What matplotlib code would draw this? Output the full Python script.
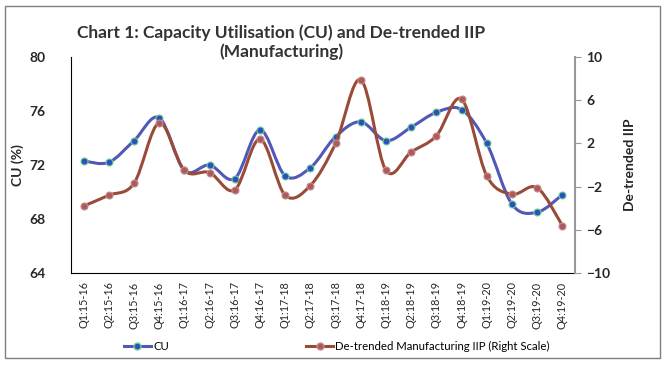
import matplotlib
matplotlib.use("Agg")
import matplotlib.pyplot as plt
from matplotlib.path import Path
from matplotlib.patches import PathPatch, Rectangle
from matplotlib.lines import Line2D
import numpy as np

plt.rcParams['font.family'] = ['Lato', 'DejaVu Sans']

quarters = ["Q1:15-16", "Q2:15-16", "Q3:15-16", "Q4:15-16",
            "Q1:16-17", "Q2:16-17", "Q3:16-17", "Q4:16-17",
            "Q1:17-18", "Q2:17-18", "Q3:17-18", "Q4:17-18",
            "Q1:18-19", "Q2:18-19", "Q3:18-19", "Q4:18-19",
            "Q1:19-20", "Q2:19-20", "Q3:19-20", "Q4:19-20"]
cu = [72.3, 72.2, 73.8, 75.5, 71.6, 72.0, 71.0, 74.6, 71.2, 71.8,
      74.1, 75.2, 73.8, 74.8, 75.9, 76.1, 73.6, 69.1, 68.5, 69.8]
iip = [-3.8, -2.8, -1.7, 3.9, -0.5, -0.7, -2.3, 2.4, -2.8, -1.9,
       2.0, 7.9, -0.5, 1.2, 2.7, 6.1, -1.0, -2.7, -2.1, -5.6]

blue_line = "#5058b8"
blue_dot = "#2c50c0"
red_line = "#9a4a38"
red_dot = "#a85c5c"


def smooth_path(xs, ys):
    # Excel-style smoothed line as cubic bezier segments
    pts = np.column_stack([xs, ys]).astype(float)
    n = len(pts)
    verts = [pts[0]]
    codes = [Path.MOVETO]
    for i in range(n - 1):
        p0 = pts[i - 1] if i > 0 else pts[i]
        p1 = pts[i]
        p2 = pts[i + 1]
        p3 = pts[i + 2] if i + 2 < n else pts[i + 1]
        c1 = p1 + (p2 - p0) / 6.0
        c2 = p2 - (p3 - p1) / 6.0
        verts += [c1, c2, p2]
        codes += [Path.CURVE4] * 3
    return Path(verts, codes)


fig = plt.figure(figsize=(6.67, 3.69), dpi=100)
fig.patches.append(Rectangle((0.008, 0.03), 0.982, 0.955, transform=fig.transFigure,
                             fill=False, edgecolor="#7f7f7f", linewidth=1.0))

ax = fig.add_axes([0.1064, 0.260, 0.7556, 0.5855])
ax2 = ax.twinx()

x = np.arange(len(quarters))

ax.add_patch(PathPatch(smooth_path(x, cu), fill=False, edgecolor=blue_line, linewidth=2.2, zorder=2))
ax.plot(x, cu, linestyle="none", marker="o", markersize=5, markerfacecolor=blue_dot,
        markeredgecolor="#6fcf8f", markeredgewidth=0.8, zorder=3)

ax2.add_patch(PathPatch(smooth_path(x, iip), fill=False, edgecolor=red_line, linewidth=2.2, zorder=2))
ax2.plot(x, iip, linestyle="none", marker="o", markersize=5, markerfacecolor=red_dot,
         markeredgecolor="#c98a8a", markeredgewidth=0.8, zorder=3)

ax.set_xlim(-0.5, len(quarters) - 0.5)
ax.set_ylim(64, 80)
ax.set_yticks([64, 68, 72, 76, 80])
ax2.set_ylim(-10, 10)
ax2.set_yticks([-10, -6, -2, 2, 6, 10])

ax.set_xticks(x)
ax.set_xticklabels(quarters, rotation=90, fontsize=7.8, color="#262626")
ax.tick_params(axis="x", length=0, pad=6)
ax.tick_params(axis="y", length=0, labelsize=10, pad=18)
ax2.tick_params(axis="y", length=4, color="#999999", labelsize=10, pad=4)
for lab in ax.get_yticklabels() + ax2.get_yticklabels():
    lab.set_fontweight("bold")
    lab.set_color("#262626")

for s in ["top", "right"]:
    ax.spines[s].set_visible(False)
ax.spines["left"].set_color("black")
ax.spines["bottom"].set_color("black")
for s in ["top", "left", "bottom"]:
    ax2.spines[s].set_visible(False)
ax2.spines["right"].set_color("#999999")
ax2.spines["right"].set_linewidth(1.5)

ax.set_ylabel("CU (%)", fontsize=10, fontweight="bold", color="#262626", labelpad=4)
ax2.set_ylabel("De-trended IIP", fontsize=10, fontweight="bold", color="#262626", labelpad=10)

fig.text(0.422, 0.885, "Chart 1: Capacity Utilisation (CU) and De-trended IIP\n(Manufacturing)",
         ha="center", va="center", fontsize=12.5, fontweight="bold", color="#333333",
         linespacing=1.2)

handles = [
    Line2D([], [], color=blue_line, linewidth=2.2, marker="o", markersize=5,
           markerfacecolor=blue_dot, markeredgecolor="#6fcf8f"),
    Line2D([], [], color=red_line, linewidth=2.2, marker="o", markersize=5,
           markerfacecolor=red_dot, markeredgecolor="#c98a8a"),
]
fig.legend(handles, ["CU", "De-trended Manufacturing IIP (Right Scale)"],
           loc="center", bbox_to_anchor=(0.505, 0.06), ncol=2, frameon=False,
           fontsize=8.2, columnspacing=12, handlelength=2.4, handletextpad=0.2)

fig.savefig("out.png", dpi=100)
